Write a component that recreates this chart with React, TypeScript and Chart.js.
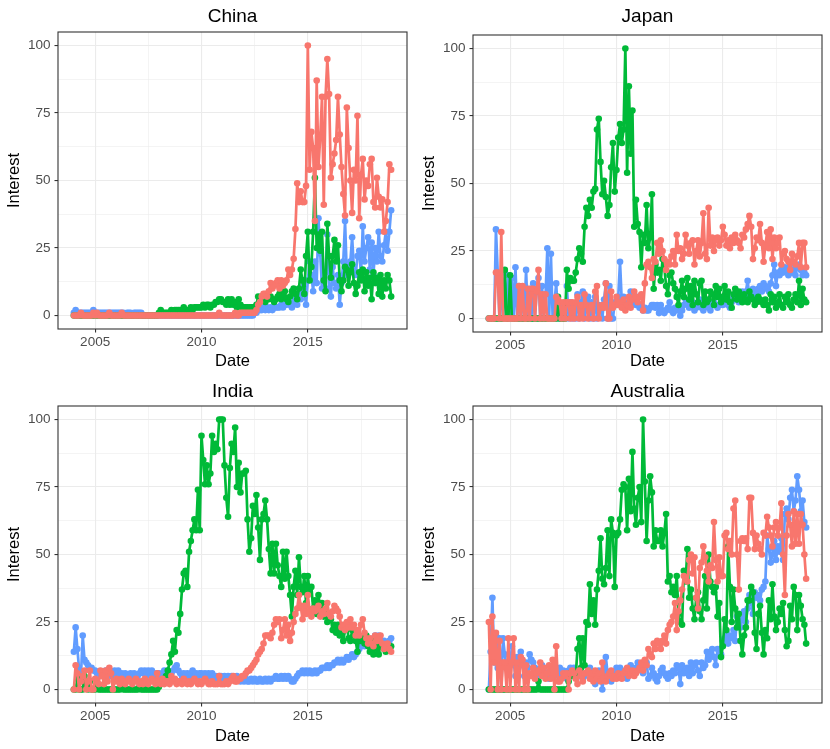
import { useEffect, useRef } from "react";
import { Chart, registerables } from "chart.js";

Chart.register(...registerables);

// monthly values, Jan 2004 .. Dec 2018 (one row per year)
const START_YEAR = 2004;
const yearTicks = [2005, 2010, 2015];
const interestTicks = [0, 25, 50, 75, 100];

const chinaRed = [
    0, 0, 0, 0, 1, 0, 0, 0, 0, 0, 0, 1,
    0, 1, 0, 0, 0, 0, 0, 0, 1, 0, 0, 0,
    0, 0, 0, 1, 0, 0, 0, 0, 0, 0, 0, 0,
    0, 0, 0, 0, 0, 0, 0, 0, 0, 0, 0, 0,
    0, 0, 0, 0, 0, 0, 0, 0, 0, 0, 0, 0,
    0, 0, 0, 0, 0, 0, 0, 0, 0, 0, 0, 0,
    0, 0, 0, 0, 0, 0, 0, 0, 0, 0, 1, 0,
    0, 0, 0, 0, 0, 0, 0, 1, 0, 0, 1, 1,
    1, 1, 1, 1, 1, 1, 1, 2, 4, 5, 7, 8,
    8, 7, 9, 12, 10, 11, 12, 13, 10, 13, 11, 12,
    13, 17, 15, 17, 21, 32, 49, 42, 46, 42, 42, 48,
    100, 54, 68, 62, 35, 87, 55, 66, 81, 41, 81, 95,
    82, 51, 56, 60, 65, 81, 67, 55, 45, 37, 77, 62,
    50, 38, 54, 50, 74, 36, 52, 58, 43, 50, 48, 56,
    58, 42, 40, 51, 44, 40, 43, 31, 35, 42, 56, 54,
];
const chinaGreen = [
    0, 0, 0, 0, 0, 0, 0, 0, 0, 0, 0, 0,
    0, 0, 0, 0, 0, 0, 0, 0, 0, 0, 0, 0,
    0, 0, 0, 0, 0, 0, 0, 0, 0, 0, 0, 0,
    0, 0, 0, 0, 0, 0, 0, 0, 0, 0, 0, 0,
    1, 2, 1, 1, 1, 1, 1, 2, 1, 2, 2, 2,
    2, 2, 3, 2, 2, 2, 3, 2, 3, 3, 3, 3,
    3, 4, 3, 4, 4, 3, 4, 4, 5, 5, 6, 6,
    5, 5, 4, 6, 4, 6, 4, 5, 3, 6, 4, 3,
    3, 3, 3, 3, 3, 3, 3, 4, 7, 6, 7, 6,
    5, 6, 6, 7, 6, 5, 6, 7, 8, 6, 7, 9,
    6, 5, 7, 9, 10, 8, 6, 10, 17, 13, 8, 22,
    31, 13, 18, 31, 51, 25, 30, 24, 31, 13, 9, 34,
    22, 14, 22, 28, 20, 26, 13, 9, 13, 18, 17, 11,
    16, 19, 12, 8, 11, 16, 13, 17, 9, 16, 11, 14,
    6, 16, 12, 14, 8, 15, 7, 13, 10, 15, 13, 7,
];
const chinaBlue = [
    1, 2, 1, 1, 1, 1, 1, 1, 1, 1, 1, 2,
    1, 1, 1, 1, 1, 1, 1, 1, 1, 1, 1, 1,
    1, 1, 1, 1, 1, 0, 1, 1, 1, 0, 1, 1,
    1, 1, 1, 0, 0, 0, 0, 0, 0, 0, 0, 0,
    0, 0, 0, 0, 0, 0, 0, 0, 0, 0, 0, 0,
    0, 0, 0, 0, 0, 0, 0, 0, 0, 0, 0, 0,
    0, 0, 0, 0, 0, 0, 0, 0, 0, 0, 0, 0,
    0, 0, 0, 0, 0, 0, 0, 0, 0, 0, 0, 0,
    0, 0, 0, 0, 0, 0, 1, 1, 2, 2, 2, 3,
    2, 3, 2, 3, 2, 3, 3, 3, 3, 4, 3, 4,
    4, 5, 4, 3, 5, 6, 4, 8, 6, 13, 9, 4,
    13, 20, 15, 9, 20, 12, 36, 23, 10, 12, 16, 30,
    10, 7, 18, 12, 10, 15, 4, 12, 20, 35, 15, 18,
    20, 29, 17, 15, 22, 24, 15, 33, 20, 25, 29, 17,
    27, 15, 25, 20, 31, 22, 20, 26, 31, 24, 31, 39,
];

const japanRed = [
    0, 0, 0, 0, 17, 17, 0, 32, 0, 0, 0, 0,
    0, 0, 0, 0, 0, 12, 0, 12, 0, 0, 11, 0,
    11, 11, 0, 10, 18, 0, 9, 0, 9, 0, 0, 0,
    0, 0, 8, 7, 6, 0, 6, 0, 6, 6, 0, 6,
    0, 6, 8, 0, 5, 0, 9, 5, 0, 4, 5, 0,
    10, 12, 0, 4, 5, 4, 13, 0, 0, 10, 4, 5,
    8, 5, 6, 4, 7, 3, 5, 8, 4, 7, 10, 8,
    6, 8, 9, 3, 13, 20, 21, 19, 15, 22, 21, 28,
    24, 29, 25, 22, 18, 21, 20, 23, 25, 20, 31, 25,
    26, 22, 24, 31, 27, 24, 28, 29, 20, 25, 29, 23,
    28, 39, 24, 22, 41, 27, 30, 25, 29, 30, 27, 29,
    34, 31, 27, 29, 26, 30, 28, 31, 29, 28, 26, 31,
    30, 33, 35, 38, 34, 22, 26, 30, 29, 35, 28, 21,
    27, 32, 26, 33, 22, 30, 26, 28, 30, 20, 24, 25,
    22, 21, 18, 24, 21, 20, 23, 28, 19, 28, 28, 19,
];
const japanGreen = [
    0, 0, 0, 0, 0, 0, 0, 0, 0, 18, 0, 0,
    16, 0, 0, 0, 0, 0, 0, 0, 0, 0, 0, 0,
    0, 0, 0, 0, 0, 0, 0, 0, 0, 0, 0, 0,
    0, 0, 0, 8, 0, 0, 0, 0, 18, 11, 15, 14,
    14, 17, 22, 26, 24, 21, 34, 41, 38, 44, 41, 47,
    48, 70, 74, 58, 46, 51, 45, 38, 42, 56, 65, 47,
    55, 67, 72, 65, 70, 100, 54, 86, 61, 77, 34, 44,
    35, 32, 19, 31, 28, 42, 26, 30, 46, 11, 20, 17,
    18, 14, 22, 19, 12, 9, 16, 17, 13, 11, 8, 5,
    10, 14, 8, 11, 15, 7, 12, 5, 14, 9, 6, 13,
    14, 5, 10, 6, 7, 10, 9, 5, 12, 8, 11, 6,
    8, 12, 7, 10, 6, 4, 9, 11, 7, 10, 8, 6,
    9, 7, 6, 10, 8, 7, 5, 6, 8, 7, 6, 5,
    7, 5, 3, 9, 6, 8, 4, 6, 9, 5, 4, 8,
    6, 9, 5, 4, 7, 9, 6, 14, 5, 11, 7, 6,
];
const japanBlue = [
    0, 0, 0, 0, 33, 17, 0, 14, 0, 17, 0, 16,
    0, 15, 0, 19, 0, 12, 0, 10, 0, 18, 0, 11,
    0, 13, 0, 11, 15, 0, 12, 0, 9, 26, 0, 24,
    0, 6, 13, 0, 5, 0, 4, 0, 12, 0, 6, 0,
    5, 0, 9, 0, 6, 10, 0, 5, 8, 0, 6, 0,
    8, 0, 5, 4, 0, 7, 13, 0, 12, 0, 0, 6,
    5, 8, 21, 6, 8, 4, 5, 6, 10, 7, 6, 5,
    8, 4, 5, 3, 4, 3, 3, 4, 5, 5, 4, 5,
    2, 5, 3, 2, 3, 4, 6, 3, 2, 4, 3, 4,
    1, 3, 5, 7, 6, 4, 5, 6, 3, 4, 6, 7,
    4, 3, 6, 5, 4, 3, 5, 6, 5, 4, 5, 6,
    5, 6, 7, 5, 4, 6, 8, 9, 7, 6, 8, 10,
    8, 10, 14, 8, 9, 11, 7, 10, 11, 12, 10, 13,
    12, 11, 10, 13, 16, 20, 12, 17, 16, 18, 17, 19,
    18, 16, 20, 17, 18, 16, 19, 20, 18, 16, 17, 16,
];

const indiaRed = [
    0, 9, 6, 0, 3, 5, 7, 0, 3, 7, 0, 0,
    4, 3, 2, 7, 5, 2, 7, 3, 8, 6, 0, 3,
    4, 3, 2, 4, 3, 2, 3, 4, 3, 2, 3, 4,
    3, 2, 3, 2, 4, 3, 2, 3, 4, 3, 2, 6,
    3, 2, 4, 2, 3, 3, 2, 5, 3, 4, 2, 3,
    3, 2, 4, 3, 2, 3, 2, 3, 4, 3, 2, 3,
    2, 3, 4, 3, 2, 2, 3, 2, 2, 2, 5, 2,
    2, 2, 3, 2, 3, 4, 5, 3, 3, 4, 4, 5,
    5, 6, 7, 7, 8, 9, 10, 11, 13, 14, 15, 17,
    20, 20, 20, 19, 21, 24, 26, 25, 26, 19, 22, 26,
    20, 24, 18, 21, 25, 28, 30, 35, 31, 26, 31, 28,
    35, 29, 27, 30, 29, 30, 31, 27, 29, 28, 30, 32,
    28, 27, 29, 31, 30, 29, 27, 23, 24, 22, 25, 23,
    26, 23, 24, 20, 22, 20, 24, 26, 21, 19, 17, 19,
    17, 16, 20, 18, 19, 20, 17, 15, 16, 17, 15, 14,
];
const indiaGreen = [
    0, 0, 4, 0, 0, 0, 5, 2, 0, 3, 0, 0,
    0, 1, 0, 0, 0, 0, 0, 0, 0, 0, 0, 0,
    0, 0, 0, 1, 0, 0, 0, 0, 0, 0, 0, 0,
    0, 1, 0, 0, 0, 0, 0, 0, 0, 0, 0, 0,
    1, 2, 3, 4, 5, 7, 10, 13, 18, 14, 22, 21,
    28, 37, 43, 44, 38, 51, 55, 59, 63, 59, 74, 59,
    94, 85, 76, 83, 76, 80, 94, 88, 91, 89, 100, 100,
    100, 83, 71, 64, 82, 91, 88, 97, 75, 84, 73, 80,
    80, 81, 63, 51, 56, 68, 65, 72, 60, 48, 63, 65,
    70, 63, 52, 43, 54, 43, 54, 46, 42, 38, 51, 41,
    51, 42, 35, 27, 38, 44, 35, 49, 38, 36, 42, 32,
    42, 36, 38, 30, 33, 28, 35, 30, 32, 27, 29, 25,
    28, 26, 22, 24, 21, 24, 20, 23, 18, 22, 24, 19,
    18, 22, 20, 18, 14, 20, 18, 19, 17, 20, 16, 14,
    18, 13, 16, 15, 13, 17, 16, 15, 14, 16, 15, 16,
];
const indiaBlue = [
    14, 23, 15, 7, 5, 20, 11, 10, 9, 8, 8, 7,
    7, 6, 6, 5, 6, 5, 7, 6, 7, 5, 6, 7,
    6, 7, 5, 6, 5, 6, 5, 5, 6, 5, 6, 5,
    5, 6, 7, 6, 7, 5, 7, 6, 7, 6, 5, 6,
    6, 5, 6, 7, 6, 7, 5, 6, 7, 8, 9, 7,
    6, 5, 6, 5, 6, 5, 6, 7, 5, 6, 5, 6,
    6, 5, 6, 5, 6, 5, 6, 5, 5, 4, 5, 5,
    4, 5, 4, 5, 4, 5, 4, 4, 5, 4, 3, 4,
    3, 4, 3, 3, 4, 3, 4, 3, 3, 4, 3, 3,
    4, 3, 4, 3, 4, 4, 5, 4, 4, 5, 4, 5,
    4, 5, 4, 3, 3, 4, 5, 6, 6, 7, 6, 7,
    6, 7, 6, 6, 7, 6, 7, 7, 8, 8, 8, 9,
    8, 9, 9, 10, 10, 11, 10, 11, 10, 11, 12, 11,
    12, 13, 12, 13, 14, 15, 16, 17, 16, 17, 18, 17,
    18, 19, 20, 19, 20, 18, 17, 18, 17, 16, 18, 19,
];

const australiaRed = [
    25, 0, 27, 10, 21, 0, 18, 0, 10, 10, 0, 19,
    0, 10, 19, 0, 10, 0, 12, 11, 0, 9, 0, 6,
    5, 8, 4, 6, 7, 10, 5, 8, 4, 6, 9, 4,
    11, 0, 16, 3, 3, 4, 6, 5, 6, 0, 6, 7,
    6, 4, 2, 7, 5, 3, 6, 6, 7, 4, 6, 3,
    7, 4, 6, 3, 10, 4, 3, 5, 6, 7, 4, 5,
    4, 6, 5, 4, 6, 7, 8, 5, 6, 7, 5, 6,
    7, 8, 10, 7, 11, 9, 15, 13, 12, 17, 15, 18,
    17, 15, 18, 20, 17, 22, 24, 25, 27, 32, 22, 29,
    33, 37, 42, 41, 40, 48, 50, 43, 49, 34, 30, 45,
    47, 53, 49, 44, 40, 46, 45, 62, 48, 40, 49, 42,
    42, 57, 58, 52, 55, 50, 67, 70, 50, 37, 55, 56,
    55, 56, 52, 71, 71, 58, 52, 57, 54, 52, 50, 58,
    57, 64, 60, 57, 53, 60, 62, 57, 60, 69, 50, 35,
    57, 65, 61, 53, 66, 54, 65, 54, 65, 61, 50, 41,
];
const australiaGreen = [
    0, 0, 0, 0, 0, 0, 0, 0, 0, 0, 0, 0,
    0, 0, 0, 0, 0, 0, 0, 0, 0, 0, 0, 0,
    0, 0, 0, 0, 3, 0, 0, 0, 0, 0, 0, 0,
    0, 0, 0, 0, 0, 0, 0, 0, 0, 3, 6, 5,
    6, 5, 15, 19, 8, 19, 9, 25, 24, 39, 28, 33,
    24, 37, 44, 56, 41, 39, 45, 59, 42, 63, 58, 38,
    57, 58, 63, 74, 76, 75, 59, 78, 66, 88, 67, 61,
    71, 75, 62, 100, 77, 55, 70, 79, 73, 53, 59, 55,
    55, 59, 53, 58, 65, 40, 42, 36, 38, 35, 42, 28,
    25, 24, 44, 40, 52, 34, 37, 30, 26, 34, 36, 29,
    26, 33, 42, 30, 50, 40, 38, 36, 38, 27, 32, 12,
    16, 26, 22, 53, 38, 25, 37, 30, 23, 28, 18, 13,
    20, 23, 33, 33, 38, 36, 21, 15, 28, 31, 21, 13,
    22, 19, 33, 26, 39, 27, 22, 25, 30, 28, 32, 22,
    16, 18, 31, 26, 38, 35, 22, 35, 31, 26, 24, 17,
];
const australiaBlue = [
    0, 14, 34, 10, 20, 8, 19, 0, 19, 13, 8, 7,
    9, 16, 10, 5, 12, 9, 14, 9, 5, 10, 8, 13,
    11, 10, 8, 5, 6, 7, 9, 8, 6, 5, 4, 7,
    6, 5, 7, 6, 8, 5, 7, 6, 4, 7, 8, 7,
    8, 6, 7, 5, 6, 4, 5, 6, 7, 8, 4, 6,
    2, 5, 7, 6, 0, 5, 12, 6, 4, 3, 6, 5,
    8, 7, 8, 6, 5, 7, 4, 6, 9, 6, 7, 8,
    10, 9, 8, 6, 9, 10, 4, 5, 8, 6, 4, 3,
    5, 7, 8, 6, 5, 4, 6, 5, 7, 6, 9, 8,
    2, 9, 6, 7, 8, 5, 10, 6, 9, 10, 7, 5,
    10, 8, 9, 14, 11, 13, 15, 12, 9, 15, 14, 13,
    18, 19, 21, 17, 20, 19, 22, 18, 27, 25, 23, 26,
    29, 25, 30, 35, 32, 28, 36, 34, 35, 33, 37, 38,
    40, 57, 52, 47, 50, 55, 48, 53, 51, 56, 48, 65,
    67, 63, 71, 74, 66, 70, 79, 74, 66, 70, 62, 60,
];

const FONT = "'Liberation Sans', Arial, Helvetica, sans-serif";
const RED = "#F8766D";
const GREEN = "#00BA38";
const BLUE = "#619CFF";
const GRID = "#EBEBEB";
const DARK = "#333333";

// ggplot-style 5% expansion around Jan 2004 .. Dec 2018
const X_FIRST = START_YEAR;
const X_LAST = START_YEAR + 179 / 12;
const X_PAD = (X_LAST - X_FIRST) * 0.05;

const toPoints = (values: number[]) =>
    values.map((v, i) => ({ x: START_YEAR + i / 12, y: v }));

type PanelProps = {
    title: string;
    red: number[];
    green: number[];
    blue: number[];
    height: number;
    top: number;
    titleY: number;
    dateBottom: number;
};

const Panel = ({ title, red, green, blue, height, top, titleY, dateBottom }: PanelProps) => {
    const canvasRef = useRef<HTMLCanvasElement | null>(null);

    useEffect(() => {
        if (!canvasRef.current) return;

        const panelDecor = {
            id: "panelDecor",
            afterDraw(chart: any) {
                const { ctx, chartArea } = chart;
                ctx.save();
                ctx.strokeStyle = DARK;
                ctx.lineWidth = 1.1;
                ctx.strokeRect(chartArea.left, chartArea.top,
                    chartArea.right - chartArea.left, chartArea.bottom - chartArea.top);
                ctx.font = `19px ${FONT}`;
                ctx.fillStyle = "#000";
                ctx.textAlign = "center";
                ctx.textBaseline = "middle";
                ctx.fillText(title, (chartArea.left + chartArea.right) / 2, titleY);
                ctx.restore();
            },
        };

        const series = [
            { data: red, color: RED },
            { data: green, color: GREEN },
            { data: blue, color: BLUE },
        ];

        const chart = new Chart(canvasRef.current, {
            type: "line",
            data: {
                datasets: series.map((s) => ({
                    data: toPoints(s.data),
                    borderColor: s.color,
                    backgroundColor: s.color,
                    borderWidth: 2.7,
                    borderJoinStyle: "round",
                    borderCapStyle: "round",
                    pointRadius: 3.3,
                    pointBorderWidth: 0,
                    pointBackgroundColor: s.color,
                    tension: 0,
                })),
            },
            options: {
                responsive: false,
                animation: false,
                events: [],
                layout: { padding: { top, right: 8, left: 0, bottom: 0 } },
                plugins: {
                    legend: { display: false },
                    tooltip: { enabled: false },
                },
                scales: {
                    x: {
                        type: "linear",
                        min: X_FIRST - X_PAD,
                        max: X_LAST + X_PAD,
                        afterFit: (s: any) => { s.height = height - 329 - (top - 32); },
                        ticks: {
                            stepSize: 2.5,
                            includeBounds: false,
                            autoSkip: false,
                            maxRotation: 0,
                            padding: 2,
                            color: "#4D4D4D",
                            font: { size: 13.5, family: FONT },
                            callback: (v: any) => (yearTicks.includes(v) ? String(v) : ""),
                        },
                        grid: {
                            color: GRID,
                            lineWidth: (c: any) => (yearTicks.includes(c.tick?.value) ? 1.1 : 0.55),
                            tickLength: 3.5,
                            tickColor: (c: any) => (yearTicks.includes(c.tick?.value) ? DARK : "rgba(0,0,0,0)"),
                            tickWidth: 1.1,
                        },
                        border: { display: false },
                        title: {
                            display: true,
                            text: "Date",
                            color: "#000",
                            font: { size: 16.5, family: FONT },
                            padding: { top: 0, bottom: dateBottom },
                        },
                    },
                    y: {
                        type: "linear",
                        min: -5,
                        max: 105,
                        afterFit: (s: any) => { s.width = 58; },
                        ticks: {
                            stepSize: 12.5,
                            includeBounds: false,
                            autoSkip: false,
                            padding: 4,
                            color: "#4D4D4D",
                            font: { size: 13.5, family: FONT },
                            callback: (v: any) => (interestTicks.includes(v) ? String(v) : ""),
                        },
                        grid: {
                            color: GRID,
                            lineWidth: (c: any) => (interestTicks.includes(c.tick?.value) ? 1.1 : 0.55),
                            tickLength: 3.5,
                            tickColor: (c: any) => (interestTicks.includes(c.tick?.value) ? DARK : "rgba(0,0,0,0)"),
                            tickWidth: 1.1,
                        },
                        border: { display: false },
                        title: {
                            display: true,
                            text: "Interest",
                            color: "#000",
                            font: { size: 16.5, family: FONT },
                            padding: { top: 5, bottom: 0 },
                        },
                    },
                },
            } as any,
            plugins: [panelDecor],
        });

        return () => chart.destroy();
    }, [title, red, green, blue, height, top, titleY, dateBottom]);

    return (
        <canvas
            ref={canvasRef}
            width={415}
            height={height}
            style={{ display: "block", width: 415, height }}
        />
    );
};

export default function App() {
    return (
        <div
            style={{
                position: "absolute",
                left: 0,
                top: 0,
                width: 830,
                height: 749,
                background: "#fff",
                display: "grid",
                gridTemplateColumns: "415px 415px",
            }}
        >
            <Panel title="China" red={chinaRed} green={chinaGreen} blue={chinaBlue}
                height={373} top={32} titleY={17} dateBottom={2} />
            <Panel title="Japan" red={japanRed} green={japanGreen} blue={japanBlue}
                height={373} top={35} titleY={17} dateBottom={2} />
            <Panel title="India" red={indiaRed} green={indiaGreen} blue={indiaBlue}
                height={376} top={33} titleY={19} dateBottom={2.4} />
            <Panel title="Australia" red={australiaRed} green={australiaGreen} blue={australiaBlue}
                height={376} top={33} titleY={19} dateBottom={2.4} />
        </div>
    );
}
